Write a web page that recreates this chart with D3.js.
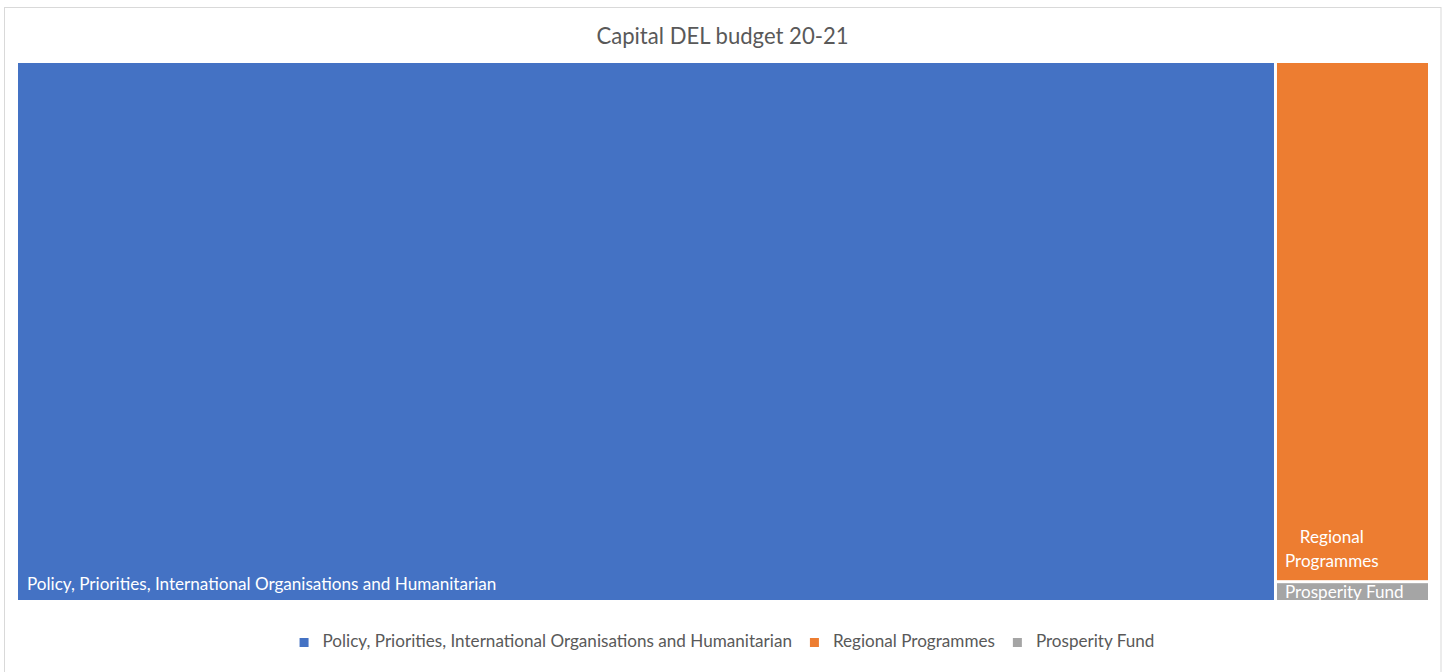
<!DOCTYPE html>
<html>
<head>
<meta charset="utf-8">
<script src="https://cdn.jsdelivr.net/npm/d3@7"></script>
<style>
  html, body { margin: 0; padding: 0; background: #fff; }
  svg { display: block; font-family: Lato, "Open Sans", sans-serif; }
</style>
</head>
<body>
<svg id="chart" width="1446" height="672"></svg>
<script>
// Capital DEL budget 2020-21 by programme area
const categories = [
  "Policy, Priorities, International Organisations and Humanitarian",
  "Regional Programmes",
  "Prosperity Fund"
];
const values = [891, 105, 4];
const colors = ["#4472C4", "#ED7D31", "#A5A5A5"];
const title = "Capital DEL budget 20-21";

const W = 1446, H = 672;
const area = { left: 18, top: 63, right: 1428, bottom: 600 };

const svg = d3.select("#chart");

// chart frame
svg.append("rect")
  .attr("x", 4.5).attr("y", 7.5)
  .attr("width", 1436.5).attr("height", H + 10)
  .attr("fill", "#fff")
  .attr("stroke", "#D9D9D9").attr("stroke-width", 1);

svg.append("text")
  .attr("x", 722.5).attr("y", 44)
  .attr("text-anchor", "middle")
  .attr("font-size", 22.1)
  .attr("fill", "#595959")
  .text(title);

const data = categories.map((name, i) => ({ name, value: values[i], color: colors[i] }));

const root = d3.hierarchy({ children: data })
  .sum(d => d.value || 0)
  .sort((a, b) => b.value - a.value);

d3.treemap()
  .tile(d3.treemapSquarify)
  .size([area.right - area.left, area.bottom - area.top])
  .paddingInner(3)(root);

const g = svg.append("g").attr("transform", `translate(${area.left},${area.top})`);

const cell = g.selectAll("g.cell")
  .data(root.leaves())
  .join("g")
  .attr("class", "cell")
  .attr("transform", d => `translate(${d.x0},${d.y0})`);

cell.append("clipPath")
  .attr("id", (d, i) => "clip" + i)
  .append("rect")
  .attr("width", d => d.x1 - d.x0)
  .attr("height", d => d.y1 - d.y0);

cell.append("rect")
  .attr("width", d => d.x1 - d.x0)
  .attr("height", d => d.y1 - d.y0)
  .attr("fill", d => d.data.color);

const labelSize = 17.1;

// labels: wrap into the cell width, anchored to the cell's lower left
cell.each(function (d, i) {
  const sel = d3.select(this);
  const w = d.x1 - d.x0, h = d.y1 - d.y0;
  const t = sel.append("text")
    .attr("clip-path", `url(#clip${i})`)
    .attr("font-size", labelSize)
    .attr("fill", "#fff");
  // measure and wrap
  const words = d.data.name.split(" ");
  const maxW = w - 16;
  const lines = [];
  let cur = "";
  const probe = t.append("tspan");
  for (const word of words) {
    const test = cur ? cur + " " + word : word;
    probe.text(test);
    if (probe.node().getComputedTextLength() > maxW && cur) {
      lines.push(cur);
      cur = word;
    } else cur = test;
  }
  lines.push(cur);
  probe.remove();
  const widths = lines.map(l => { const s = t.append("tspan").text(l); const v = s.node().getComputedTextLength(); s.remove(); return v; });
  const blockW = d3.max(widths);
  const lh = 24.5;
  const small = h < 30;
  const baseY = small ? h - 2 : h - 13 - (lines.length - 1) * lh;
  if (lines.length === 1) {
    t.append("tspan").attr("x", small ? 8 : 9).attr("y", small ? baseY : h - 10).text(lines[0]);
  } else {
    lines.forEach((l, k) => {
      t.append("tspan")
        .attr("x", 8 + blockW / 2)
        .attr("y", baseY + k * lh)
        .attr("text-anchor", "middle")
        .text(l);
    });
  }
});

// legend
const legend = svg.append("g").attr("class", "legend");
const items = legend.selectAll("g").data(data).join("g");
items.append("rect").attr("width", 9).attr("height", 9).attr("y", -9).attr("fill", d => d.color);
items.append("text").attr("x", 23).attr("y", 0)
  .attr("font-size", labelSize).attr("fill", "#595959")
  .text(d => d.name);
let lx = 0;
items.each(function () {
  const gi = d3.select(this);
  gi.attr("transform", `translate(${lx},0)`);
  lx += this.getBBox().width + 18;
});
const legendW = lx - 18;
legend.attr("transform", `translate(${(area.left + area.right) / 2 - legendW / 2 + 4},${647})`);
</script>
</body>
</html>
